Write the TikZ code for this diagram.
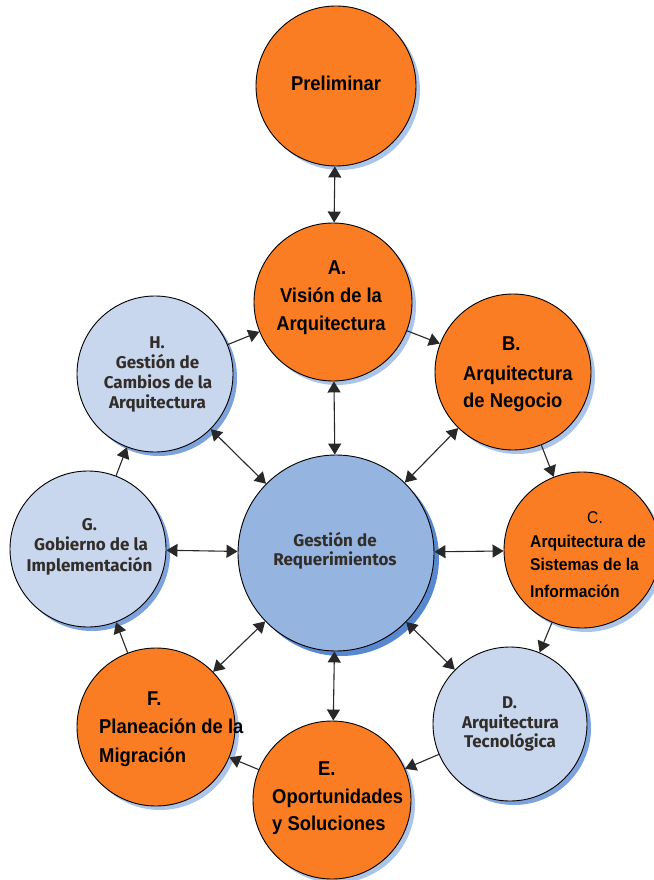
\documentclass[tikz,border=0pt]{standalone}
\usepackage{fontspec}
\usetikzlibrary{arrows.meta,shadows}
\newfontfamily\orfont{Liberation Sans}[FakeStretch=0.92]
\newfontfamily\blfont{Fira Sans}
\definecolor{phaseorange}{RGB}{250,125,35}
\definecolor{phaseblue}{RGB}{200,214,238}
\definecolor{reqblue}{RGB}{150,180,224}
\definecolor{shadowlight}{RGB}{170,196,234}
\definecolor{shadowmid}{RGB}{125,162,220}
\definecolor{shadowdark}{RGB}{88,136,208}
\definecolor{inkdark}{RGB}{40,40,40}
\definecolor{bltext}{RGB}{50,45,40}

\begin{document}
\begin{tikzpicture}[x=1pt,y=-1pt,
  phase/.style={circle, draw=black, line width=0.9pt, inner sep=0pt, minimum size=#1},
  orphase/.style={phase=#1, fill=phaseorange,
    drop shadow={shadow xshift=4pt, shadow yshift=-4pt, fill=shadowlight, opacity=1}},
  blphase/.style={phase=#1, fill=phaseblue,
    drop shadow={shadow xshift=4pt, shadow yshift=-4pt, fill=shadowmid, opacity=1}},
  ol/.style={font=\orfont\bfseries\fontsize{20}{24}\selectfont, inner sep=0pt, text=black},
  olsmall/.style={font=\orfont\bfseries\fontsize{17}{20}\selectfont, inner sep=0pt, text=black},
  bl/.style={font=\blfont\bfseries\fontsize{17}{20}\selectfont, inner sep=0pt, text=bltext},
  link/.style={draw=inkdark, line width=1.1pt},
  tip/.tip={Triangle[length=11pt,width=13pt]},
  one/.style={link, -tip},
  both/.style={link, tip-tip}
]
\useasboundingbox (0,0) rectangle (653,880);

% phase circles
\node[orphase=160pt] (pre) at (336,86) {};
\node[orphase=158pt] (A) at (333,302) {};
\node[orphase=156pt] (B) at (513,372) {};
\node[orphase=156pt] (C) at (582,550) {};
\node[blphase=154pt] (D) at (510,724) {};
\node[orphase=158pt] (E) at (332,800) {};
\node[orphase=158pt] (F) at (156,727) {};
\node[blphase=156pt] (G) at (88,549) {};
\node[blphase=156pt] (H) at (155,374) {};
\node[phase=196pt, fill=reqblue,
  drop shadow={shadow xshift=5pt, shadow yshift=-5pt, fill=shadowdark, opacity=1}] (req) at (336,553) {};

% cycle of phases
\draw[one] (A) -- (B);
\draw[one] (B) -- (C);
\draw[one] (C) -- (D);
\draw[one] (D) -- (E);
\draw[one] (E) -- (F);
\draw[one] (F) -- (G);
\draw[one] (G) -- (H);
\draw[one] (H) -- (A);

% links to the preliminary phase and to requirements management
\draw[both] (pre) -- (A);
\draw[both] (req) -- (A);
\draw[both] (req) -- (B);
\draw[both] (req) -- (C);
\draw[both] (req) -- (D);
\draw[both] (req) -- (E);
\draw[both] (req) -- (F);
\draw[both] (req) -- (G);
\draw[both] (req) -- (H);

% labels
\node[ol, anchor=base] (preT) at (336,91) {Preliminar};

\node[ol, anchor=base] (At1) at (337,274) {A.};
\node[ol, anchor=base] (At2) at (331,302) {Visión de la};
\node[ol, anchor=base] (At3) at (331,330) {Arquitectura};

\node[ol, anchor=base west] (Bt1) at (502,350) {B.};
\node[ol, anchor=base west] (Bt2) at (463,380) {Arquitectura};
\node[ol, anchor=base west] (Bt3) at (463,407) {de Negocio};

\node[olsmall, font=\orfont\fontsize{17}{20}\selectfont, anchor=base west] (Ct1) at (587,523) {C.};
\node[olsmall, anchor=base west] (Ct2) at (530,547) {Arquitectura de};
\node[olsmall, anchor=base west] (Ct3) at (530,570) {Sistemas de la};
\node[olsmall, anchor=base west] (Ct4) at (530,597) {Información};

\node[bl, anchor=base] (Dt1) at (509.5,708) {D.};
\node[bl, anchor=base] (Dt2) at (510.5,728) {Arquitectura};
\node[bl, anchor=base] (Dt3) at (510,747) {Tecnológica};

\node[ol, anchor=base west] (Et1) at (318,775) {E.};
\node[ol, anchor=base west] (Et2) at (272,803) {Oportunidades};
\node[ol, anchor=base west] (Et3) at (272,830) {y Soluciones};

\node[ol, anchor=base west] (Ft1) at (147,705) {F.};
\node[ol, anchor=base west] (Ft2) at (99,733) {Planeación de la};
\node[ol, anchor=base west] (Ft3) at (99,762) {Migración};

\node[bl, anchor=base] (Gt1) at (89.5,530) {G.};
\node[bl, anchor=base] (Gt2) at (91,550) {Gobierno de la};
\node[bl, anchor=base] (Gt3) at (89.5,571) {Implementación};

\node[bl, anchor=base] (Ht1) at (157,348) {H.};
\node[bl, anchor=base] (Ht2) at (157.5,368) {Gestión de};
\node[bl, anchor=base] (Ht3) at (158,388) {Cambios de la};
\node[bl, anchor=base] (Ht4) at (157.5,408) {Arquitectura};

\node[bl, anchor=base] (reqT1) at (335,546) {Gestión de};
\node[bl, anchor=base] (reqT2) at (335,565) {Requerimientos};
\end{tikzpicture}
\end{document}
